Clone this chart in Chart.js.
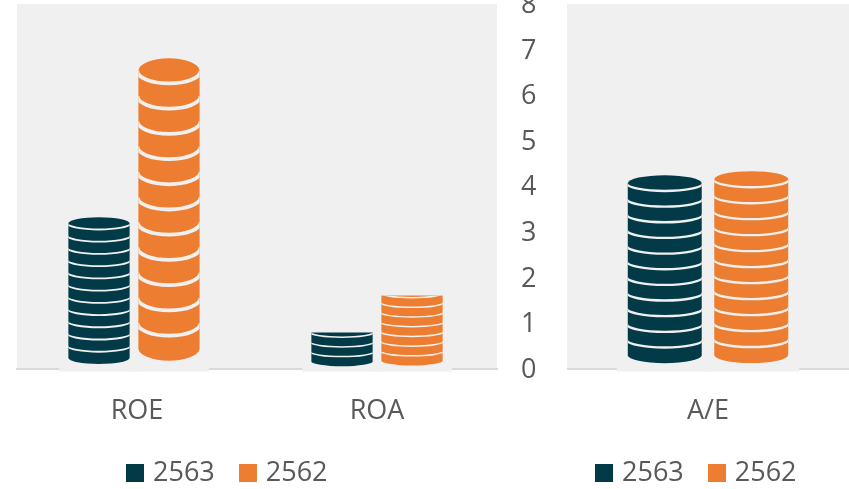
<!DOCTYPE html>
<html><head><meta charset="utf-8">
<script src="https://cdn.jsdelivr.net/npm/chart.js@4"></script>
<style>
html,body{margin:0;padding:0;background:#fff;overflow:hidden;width:849px;height:489px}
canvas{position:absolute;display:block}
</style></head><body>
<canvas id="left" width="567" height="514" style="left:0;top:-20px;width:567px;height:514px"></canvas>
<canvas id="right" width="282" height="514" style="left:567px;top:-20px;width:282px;height:514px"></canvas>
<script>
const leftCategories = ['ROE', 'ROA'];
const rightCategories = ['A/E'];
const seriesNames = ['2563', '2562'];
const left2563 = [3.32, 0.79];
const left2562 = [6.81, 1.6];
const right2563 = [4.24];
const right2562 = [4.33];
const yTicks = [0, 1, 2, 3, 4, 5, 6, 7, 8];

const DARK = '#023b47', ORANGE = '#ed7d31', PANEL = '#f0f0f0', TEXT = '#595959', AXIS = '#d9d9d9';
const FONT = {family: '"Open Sans"', size: 27};
const XAXIS_H = 60, TOP_PAD = 24;

function swatch(color) {
  const c = document.createElement('canvas');
  c.width = 18; c.height = 18;
  const x = c.getContext('2d');
  x.fillStyle = color; x.fillRect(0, 0, 18, 18);
  return c;
}

function drawStack(ctx, x, w, yt, yb, color) {
  const rx = w / 2, H = yb - yt;
  const tall = H / 12 >= 9.5;
  const s = tall ? H / 12 : 9.7;
  const ry = s / 2;
  ctx.save();
  ctx.fillStyle = color;
  ctx.beginPath();
  ctx.moveTo(x - rx, yb - ry);
  ctx.ellipse(x, yb - ry, rx, ry, 0, Math.PI, 0, true);
  if (tall) {
    ctx.lineTo(x + rx, yt + ry);
    ctx.ellipse(x, yt + ry, rx, ry, 0, 0, Math.PI, true);
  } else {
    ctx.lineTo(x + rx, yt);
    ctx.lineTo(x - rx, yt);
  }
  ctx.closePath();
  ctx.fill();
  ctx.clip();
  ctx.strokeStyle = PANEL;
  ctx.lineWidth = Math.max(1.5, s * 0.15);
  for (let k = 1; yb - k * s > yt + 0.5; k++) {
    ctx.beginPath();
    ctx.ellipse(x, yb - k * s - ry, rx + 1, ry, 0, 0, Math.PI);
    ctx.stroke();
  }
  ctx.restore();
}

const stackPlugin = {
  id: 'stackPlugin',
  afterLayout(chart, args, opts) {
    const lg = chart.legend;
    const p = lg.options.labels.padding;
    const left = opts.legendLeft + 4.5 - p;
    lg.left = left; lg.right = left + 320;
    const h = lg.bottom - lg.top;
    lg.top = opts.legendTop; lg.bottom = lg.top + h;
  },
  beforeDraw(chart, args, opts) {
    const a = chart.chartArea, ctx = chart.ctx;
    ctx.save();
    ctx.fillStyle = PANEL;
    ctx.fillRect(a.left, a.top, a.right - a.left, a.bottom - a.top);
    ctx.restore();
    const ys = chart.scales.y;
    if (ys.options.display) {
      ys.getLabelItems(a).forEach(it => { it.options.translation[1] += opts.tickShift; });
    }
  },
  beforeDatasetsDraw(chart, args, opts) {
    const ctx = chart.ctx;
    chart.data.datasets.forEach((ds, i) => {
      chart.getDatasetMeta(i).data.forEach((bar, j) => {
        const pad = bar.width * 0.15;
        const nudge = (opts.nudge && opts.nudge[j]) || 0;
        ctx.save();
        ctx.fillStyle = PANEL;
        ctx.fillRect(bar.x + nudge - bar.width / 2 - pad, bar.y, bar.width + 2 * pad, bar.base - bar.y + 3);
        ctx.restore();
      });
    });
    chart.data.datasets.forEach((ds, i) => {
      chart.getDatasetMeta(i).data.forEach((bar, j) => {
        const full = bar.base - bar.y;
        const inset = 1.5 + 0.02 * full;
        const nudge = (opts.nudge && opts.nudge[j]) || 0;
        drawStack(ctx, bar.x + nudge, bar.width, bar.y, bar.base - inset, ds.backgroundColor);
      });
    });
    return false;
  }
};

function makeChart(id, cats, a, b, cfg) {
  return new Chart(document.getElementById(id), {
    type: 'bar',
    data: {
      labels: cats,
      datasets: [
        {label: seriesNames[0], data: a, backgroundColor: DARK, borderWidth: 0},
        {label: seriesNames[1], data: b, backgroundColor: ORANGE, borderWidth: 0}
      ]
    },
    options: {
      responsive: false,
      animation: false,
      barPercentage: cfg.bar,
      categoryPercentage: cfg.cat,
      layout: {padding: {left: cfg.padLeft, right: 0, top: TOP_PAD, bottom: 0}},
      plugins: {
        tooltip: {enabled: false},
        title: {display: false},
        legend: {
          position: 'bottom', align: 'start',
          labels: {
            usePointStyle: true, boxWidth: 9, padding: 28.5, color: TEXT, font: FONT,
            generateLabels: c => Chart.defaults.plugins.legend.labels.generateLabels(c)
              .map((l, i) => Object.assign(l, {pointStyle: swatch(i ? ORANGE : DARK)}))
          }
        },
        stackPlugin: {legendLeft: cfg.legendLeft, legendTop: 451, nudge: cfg.nudge, tickShift: 1.5}
      },
      scales: {
        x: {
          grid: {display: false, drawTicks: false},
          border: {display: true, color: AXIS, width: 2},
          ticks: {color: TEXT, font: FONT, padding: 27, maxRotation: 0},
          afterFit: s => { s.height = XAXIS_H; s.paddingLeft = 0; s.paddingRight = 0; }
        },
        y: {
          display: cfg.showY,
          position: 'right',
          min: 0, max: 8,
          grid: {display: false, drawTicks: false},
          border: {display: false},
          afterBuildTicks: s => { s.ticks = yTicks.map(v => ({value: v})); },
          ticks: {color: TEXT, font: FONT, padding: 24, crossAlign: 'near'},
          afterFit: s => { if (cfg.showY) s.width = 70; s.paddingTop = 0; s.paddingBottom = 0; }
        }
      }
    },
    plugins: [stackPlugin]
  });
}

makeChart('left', leftCategories, left2563, left2562,
  {bar: 0.875, cat: 0.5833, padLeft: 17, showY: true, legendLeft: 126, nudge: [-3, 0]});
makeChart('right', rightCategories, right2563, right2562,
  {bar: 0.855, cat: 0.6135, padLeft: 0, showY: false, legendLeft: 28, nudge: [0]});
</script>
</body></html>
